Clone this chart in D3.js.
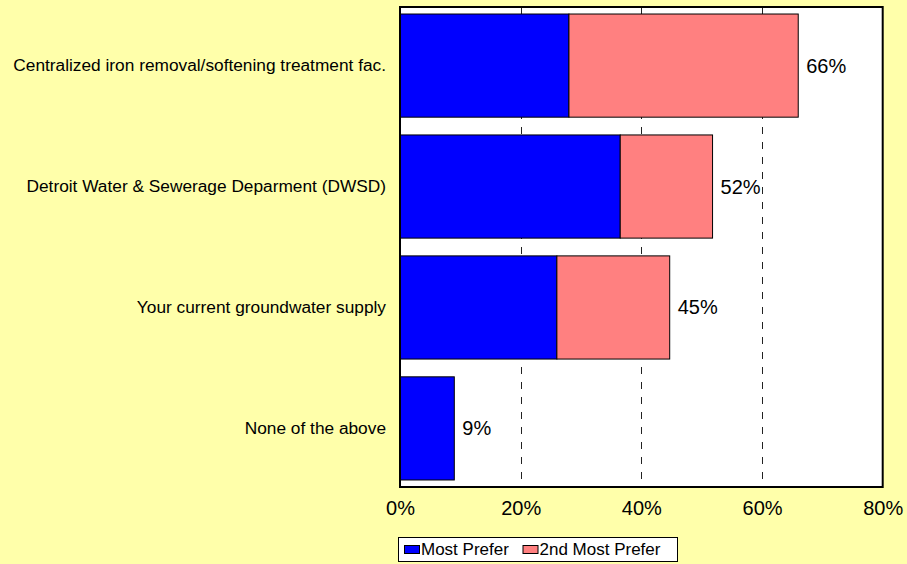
<!DOCTYPE html>
<html>
<head>
<meta charset="utf-8">
<script src="https://cdn.jsdelivr.net/npm/d3@7"></script>
<style>
    body { margin: 0; background: #FFFFAA; }
    svg { display: block; font-family: Arial, "Liberation Sans", sans-serif; }
</style>
</head>
<body>
<div id="chart"></div>
<script>
"use strict"
// Chart data
var categories = [
    "Centralized iron removal/softening treatment fac.",
    "Detroit Water & Sewerage Deparment (DWSD)",
    "Your current groundwater supply",
    "None of the above"
];
var mostPrefer = [28, 36.5, 26, 9];
var secondPrefer = [38, 15.3, 18.7, 0];
var totalLabels = ["66%", "52%", "45%", "9%"];
var seriesNames = ["Most Prefer", "2nd Most Prefer"];
var xTicks = [0, 20, 40, 60, 80];

var width = 907;
var height = 564;
var plot = { left: 400, right: 882.7, top: 7, bottom: 487 };
var colors = ["#0000FF", "#FF8080"];

var svg = d3.select("#chart").append("svg")
    .attr("width", width)
    .attr("height", height);

svg.append("rect")
    .attr("width", width)
    .attr("height", height)
    .attr("fill", "#FFFFAA");

var xScale = d3.scaleLinear().domain([0, 80]).range([plot.left, plot.right]);
var yScale = d3.scaleBand().domain(categories)
    .range([plot.top, plot.bottom])
    .paddingInner(0.147)
    .paddingOuter(0.058);

// Plot background
svg.append("rect")
    .attr("x", plot.left)
    .attr("y", plot.top)
    .attr("width", plot.right - plot.left)
    .attr("height", plot.bottom - plot.top)
    .attr("fill", "#FFFFFF");

// Dashed gridlines
svg.append("g").selectAll("line")
    .data(xTicks.filter(function (d) { return d > 0 && d < 80; }))
    .enter().append("line")
    .attr("x1", function (d) { return Math.round(xScale(d)) + 0.5; })
    .attr("x2", function (d) { return Math.round(xScale(d)) + 0.5; })
    .attr("y1", plot.top)
    .attr("y2", plot.bottom)
    .attr("stroke", "#222")
    .attr("stroke-width", 1)
    .attr("stroke-dasharray", "7,8");

// Stack the two series
var rows = categories.map(function (c, i) {
    return { cat: c, a: mostPrefer[i], b: secondPrefer[i], label: totalLabels[i] };
});

var bars = svg.append("g");
rows.forEach(function (d) {
    var segs = [[0, d.a, colors[0]], [d.a, d.a + d.b, colors[1]]];
    segs.forEach(function (s) {
        if (s[1] - s[0] <= 0) return;
        bars.append("rect")
            .attr("x", xScale(s[0]))
            .attr("y", yScale(d.cat))
            .attr("width", xScale(s[1]) - xScale(s[0]))
            .attr("height", yScale.bandwidth())
            .attr("fill", s[2])
            .attr("stroke", "#000")
            .attr("stroke-width", 1);
    });
});

// Total labels at bar ends
svg.append("g").selectAll("text")
    .data(rows)
    .enter().append("text")
    .attr("x", function (d) { return xScale(d.a + d.b) + 8; })
    .attr("y", function (d) { return yScale(d.cat) + yScale.bandwidth() / 2; })
    .attr("dy", "0.35em")
    .attr("font-size", 20)
    .attr("fill", "#000")
    .text(function (d) { return d.label; });

// Plot border
svg.append("rect")
    .attr("x", plot.left)
    .attr("y", plot.top)
    .attr("width", plot.right - plot.left)
    .attr("height", plot.bottom - plot.top)
    .attr("fill", "none")
    .attr("stroke", "#000")
    .attr("stroke-width", 2);

// X axis labels
var xAxis = d3.axisBottom(xScale)
    .tickValues(xTicks)
    .tickSize(0)
    .tickPadding(14)
    .tickFormat(function (d) { return d + "%"; });
var gx = svg.append("g")
    .attr("transform", "translate(0," + plot.bottom + ")")
    .call(xAxis);
gx.select(".domain").remove();
gx.selectAll("text")
    .attr("font-size", 20)
    .attr("font-family", "Arial, 'Liberation Sans', sans-serif")
    .attr("fill", "#000");

// Category labels
var yAxis = d3.axisLeft(yScale).tickSize(0).tickPadding(14);
var gy = svg.append("g")
    .attr("transform", "translate(" + plot.left + ",0)")
    .call(yAxis);
gy.select(".domain").remove();
gy.selectAll("text")
    .attr("font-size", 17.3)
    .attr("font-family", "Arial, 'Liberation Sans', sans-serif")
    .attr("fill", "#000");

// Legend
var legend = svg.append("g");
legend.append("rect")
    .attr("x", 398.5)
    .attr("y", 537.5)
    .attr("width", 279)
    .attr("height", 24)
    .attr("fill", "#FFFFFF")
    .attr("stroke", "#000")
    .attr("stroke-width", 1);

var legendX = [404, 522.5];
seriesNames.forEach(function (name, i) {
    legend.append("rect")
        .attr("x", legendX[i] + 0.5)
        .attr("y", 545.5)
        .attr("width", 15)
        .attr("height", 8)
        .attr("fill", colors[i])
        .attr("stroke", "#000")
        .attr("stroke-width", 1);
    legend.append("text")
        .attr("x", legendX[i] + 17)
        .attr("y", 549.5)
        .attr("dy", "0.35em")
        .attr("font-size", 17)
        .attr("fill", "#000")
        .text(name);
});
</script>
</body>
</html>
